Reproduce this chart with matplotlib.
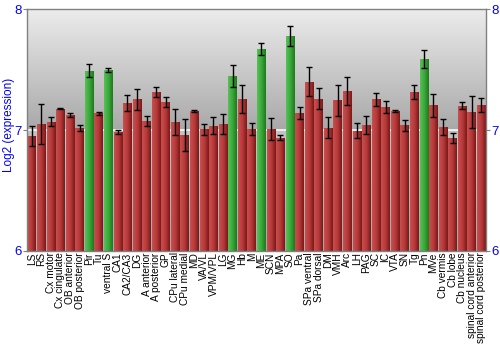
import numpy as np
import matplotlib
matplotlib.use("Agg")
import matplotlib.pyplot as plt
from matplotlib.colors import LinearSegmentedColormap

regions = ["LS", "RS", "Cx motor", "Cx cingulate", "OB anterior", "OB posterior",
           "Pir", "Tu", "ventral S", "CA1", "CA2/CA3", "DG", "A anterior",
           "A posterior", "GP", "CPu lateral", "CPu medial", "MD", "VA/VL",
           "VPM/VPL", "LG", "MG", "Hb", "M", "ME", "SCN", "MPA", "SO", "Pa",
           "SPa ventral", "SPa dorsal", "DM", "VMH", "Arc", "LH", "PAG", "SC",
           "IC", "VTA", "SN", "Tg", "Pn", "MVe", "Cb vermis", "Cb lobe",
           "Cb nucleus", "spinal cord anterior", "spinal cord posterior"]

expression = [6.95, 7.047, 7.07, 7.177, 7.124, 7.017,
              7.489, 7.138, 7.497, 6.983, 7.221, 7.254, 7.075,
              7.312, 7.23, 7.063, 6.96, 7.157, 7.005,
              7.035, 7.05, 7.445, 7.254, 7.008, 7.67, 7.008, 6.937, 7.78, 7.143,
              7.398, 7.26, 7.02, 7.245, 7.325, 6.995, 7.039, 7.254,
              7.188, 7.157, 7.04, 7.315, 7.588, 7.205, 7.025, 6.934,
              7.2, 7.15, 7.207]

error = [0.085, 0.165, 0.035, 0.003, 0.018, 0.026,
         0.054, 0.011, 0.014, 0.017, 0.066, 0.088, 0.04,
         0.04, 0.043, 0.108, 0.135, 0.012, 0.046,
         0.07, 0.079, 0.093, 0.117, 0.046, 0.047, 0.094, 0.02, 0.084, 0.048,
         0.12, 0.087, 0.085, 0.13, 0.115, 0.065, 0.075, 0.055,
         0.05, 0.011, 0.046, 0.058, 0.073, 0.095, 0.065, 0.039,
         0.03, 0.134, 0.061]

highlighted = ["Pir", "ventral S", "MG", "ME", "SO", "Pn"]

y_min, y_max = 6, 8
y_ticks = [6, 7, 8]

plt.rcParams["font.family"] = ["Liberation Sans", "DejaVu Sans"]

fig = plt.figure(figsize=(5, 3.5), dpi=100)
ax = fig.add_axes([0.054, 0.283, 0.918, 0.691])

x = np.arange(len(regions))
ax.set_xlim(-0.5, len(regions) - 0.5)
ax.set_ylim(y_min, y_max)

# vertical grey gradient behind the bars, darkest just above the middle line
bg = LinearSegmentedColormap.from_list(
    "bg", [(0.0, "#a8a8a8"), (0.499, "#c4c4c4"), (0.5, "#a8a8a8"), (1.0, "#ececec")])
ax.imshow(np.linspace(0, 1, 256).reshape(-1, 1), cmap=bg, aspect="auto",
          extent=(-0.5, len(regions) - 0.5, y_min, y_max), origin="lower",
          zorder=0, interpolation="bilinear")
ax.axhline(7, color="#f8f8f8", lw=1.2, zorder=1)

red_map = LinearSegmentedColormap.from_list("red", ["#c85050", "#b83a3a", "#7a1818"])
green_map = LinearSegmentedColormap.from_list("green", ["#58c058", "#3aa83a", "#1c7a1c"])
grad = np.linspace(0, 1, 64).reshape(1, -1)

bars = ax.bar(x, np.array(expression) - y_min, bottom=y_min, width=0.9,
              color="none", edgecolor="none", zorder=2)
for name, patch in zip(regions, bars):
    cmap = green_map if name in highlighted else red_map
    x0, y0 = patch.get_x(), patch.get_y()
    w, h = patch.get_width(), patch.get_height()
    im = ax.imshow(grad, cmap=cmap, aspect="auto", extent=(x0, x0 + w, y0, y0 + h),
                   zorder=2, interpolation="bilinear")
    im.set_clip_path(patch)

ax.errorbar(x, expression, yerr=error, fmt="none", ecolor="black",
            elinewidth=1.0, capsize=2, capthick=1.0, zorder=3)

ax.set_xticks(x)
ax.set_xticklabels(regions, rotation=90, fontsize=7.3)
ax.tick_params(axis="x", length=0, pad=1)
ax.set_yticks(y_ticks)
ax.tick_params(axis="y", which="both", direction="out", length=3,
               colors="#808080", labelcolor="#0000ff", labelsize=9.5,
               left=True, right=True, labelleft=True, labelright=True, pad=1)
ax.set_ylabel("Log2 (expression)", color="#0000ff", fontsize=8.5)
ax.yaxis.set_label_coords(-0.027, 0.52)

for side in ["left", "right", "top", "bottom"]:
    ax.spines[side].set_color("#808080")
    ax.spines[side].set_linewidth(1.0)

fig.savefig("out.png", dpi=100)
